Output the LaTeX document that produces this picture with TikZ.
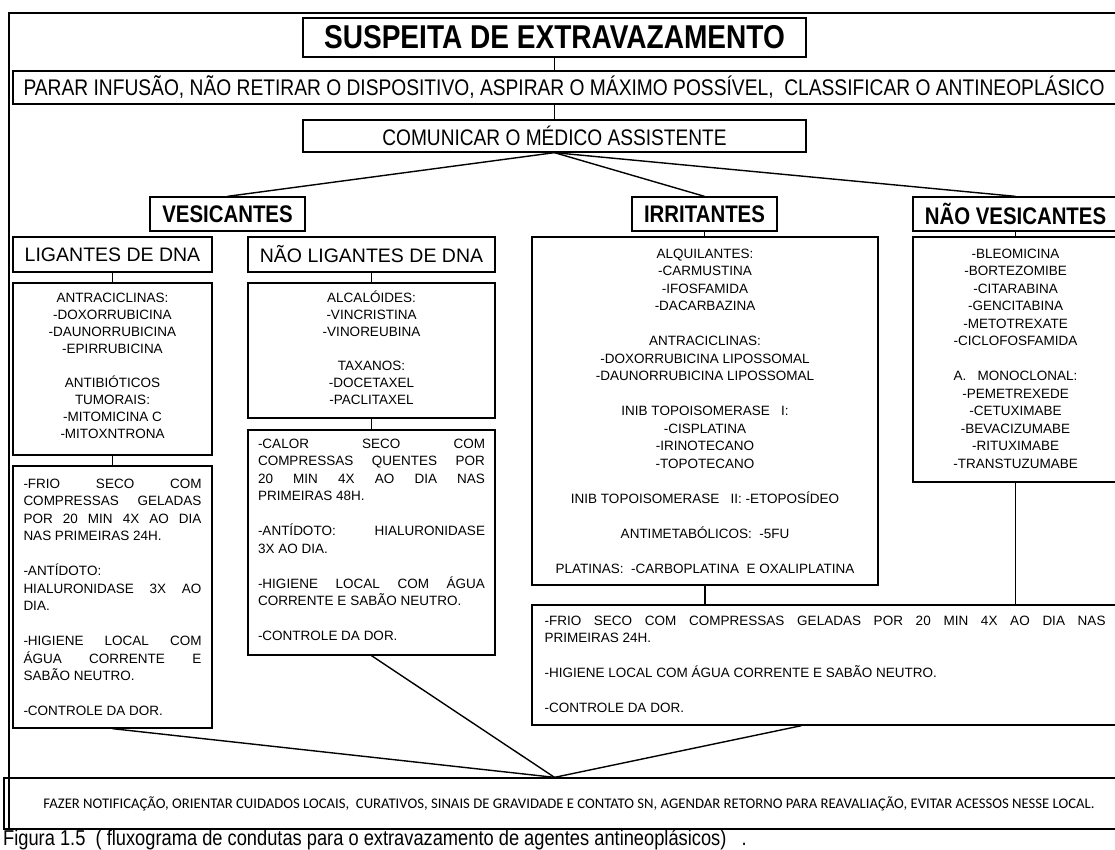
\documentclass[tikz,border=0pt]{standalone}
\usepackage{fontspec}
\setmainfont{Liberation Sans}
\newfontfamily\narrowfont[FakeStretch=0.85]{Liberation Sans}
\newfontfamily\calibfont{Carlito}
\usetikzlibrary{calc}
\newcommand{\jl}[1]{\makebox[\linewidth][s]{#1}}
\newcommand{\topl}[1]{\vspace*{#1}\rule{0pt}{13pt}}
\begin{document}
\begin{tikzpicture}[x=1pt,y=-1pt,
  box/.style={draw=black, line width=1.3pt, inner sep=0pt, align=center, text=black},
  conn/.style={draw=black, line width=1.4pt}]
\useasboundingbox (0,0) rectangle (1115,849);
\fill[white] (0,0) rectangle (1115,849);
% outer frame
\draw[line width=2pt] (9,13) rectangle (1121,829);

\node[box, minimum width=503pt, minimum height=39pt] (title) at (554.5,37.5)
  {\narrowfont\bfseries\fontsize{33}{33}\selectfont SUSPEITA DE EXTRAVAZAMENTO};
\node[box, minimum width=1105pt, minimum height=33pt] (acao) at (565.5,87.5)
  {\hspace*{-3pt}\narrowfont\fontsize{22.6}{24}\selectfont PARAR INFUSÃO, NÃO RETIRAR O DISPOSITIVO, ASPIRAR O MÁXIMO POSSÍVEL, \ CLASSIFICAR O ANTINEOPLÁSICO};
\node[box, minimum width=503pt, minimum height=32pt] (comun) at (554.5,136)
  {\narrowfont\fontsize{22.5}{23}\selectfont COMUNICAR O MÉDICO ASSISTENTE};

\node[box, minimum width=155pt, minimum height=34pt] (vesic) at (227.5,214)
  {\narrowfont\bfseries\fontsize{24}{24}\selectfont VESICANTES};
\node[box, minimum width=145pt, minimum height=34pt] (irrit) at (704.5,214)
  {\narrowfont\bfseries\fontsize{24}{24}\selectfont IRRITANTES};
\node[box, minimum width=205pt, minimum height=34pt] (naoves) at (1015.5,214)
  {\narrowfont\bfseries\fontsize{24}{24}\selectfont NÃO VESICANTES};

\node[box, minimum width=199pt, minimum height=35pt] (lig) at (112.5,254.5)
  {\fontsize{19.5}{20}\selectfont LIGANTES DE DNA};
\node[box, minimum width=247pt, minimum height=35pt] (naolig) at (371.5,254.5)
  {\fontsize{19.5}{20}\selectfont NÃO LIGANTES DE DNA};

\node[box, minimum width=199pt, minimum height=172pt] (antra) at (112.5,369)
  {\parbox[c][172pt][t]{199pt}{\centering\fontsize{13.5}{17}\selectfont\topl{6pt}ANTRACICLINAS:\\
  -DOXORRUBICINA\\ -DAUNORRUBICINA\\ -EPIRRUBICINA\\[17pt]
  ANTIBIÓTICOS\\ TUMORAIS:\\ -MITOMICINA C\\ -MITOXNTRONA}};
\node[box, minimum width=247pt, minimum height=135pt] (alcal) at (371.5,350.5)
  {\parbox[c][135pt][t]{247pt}{\centering\fontsize{13.5}{17}\selectfont\topl{6pt}ALCALÓIDES:\\
  -VINCRISTINA\\ -VINOREUBINA\\[17pt]
  TAXANOS:\\ -DOCETAXEL\\ -PACLITAXEL}};

\node[box, minimum width=199pt, minimum height=262pt, inner xsep=10.5pt] (friol) at (112.5,597)
  {\parbox[c][262pt][t]{178pt}{\raggedright\fontsize{13.5}{17.5}\selectfont\topl{9pt}%
  \jl{-FRIO SECO COM}\\
  \jl{COMPRESSAS GELADAS}\\
  \jl{POR 20 MIN 4X AO DIA}\\
  NAS PRIMEIRAS 24H.\\[17.5pt]
  -ANTÍDOTO:\\
  \jl{HIALURONIDASE 3X AO}\\
  DIA.\\[17.5pt]
  \jl{-HIGIENE LOCAL COM}\\
  \jl{ÁGUA CORRENTE E}\\
  SABÃO NEUTRO.\\[17.5pt]
  -CONTROLE DA DOR.}};

\node[box, minimum width=247pt, minimum height=225pt, inner xsep=10pt] (calor) at (371.5,542.5)
  {\parbox[c][225pt][t]{227pt}{\raggedright\fontsize{13.5}{17.5}\selectfont\topl{5pt}%
  \jl{-CALOR SECO COM}\\
  \jl{COMPRESSAS QUENTES POR}\\
  \jl{20 MIN 4X AO DIA NAS}\\
  PRIMEIRAS 48H.\\[17.5pt]
  \jl{-ANTÍDOTO: HIALURONIDASE}\\
  3X AO DIA.\\[17.5pt]
  \jl{-HIGIENE LOCAL COM ÁGUA}\\
  CORRENTE E SABÃO NEUTRO.\\[17.5pt]
  -CONTROLE DA DOR.}};

\node[box, minimum width=346pt, minimum height=348pt] (irrlist) at (705,411)
  {\parbox[c][348pt][t]{346pt}{\centering\fontsize{13.5}{17.5}\selectfont\topl{8pt}ALQUILANTES:\\
  -CARMUSTINA\\ -IFOSFAMIDA\\ -DACARBAZINA\\[17.5pt]
  ANTRACICLINAS:\\ -DOXORRUBICINA LIPOSSOMAL\\ -DAUNORRUBICINA LIPOSSOMAL\\[17.5pt]
  INIB TOPOISOMERASE \ \ I:\\ -CISPLATINA\\ -IRINOTECANO\\ -TOPOTECANO\\[17.5pt]
  INIB TOPOISOMERASE \ \ II: -ETOPOSÍDEO\\[17.5pt]
  ANTIMETABÓLICOS: \ -5FU\\[17.5pt]
  PLATINAS: \ -CARBOPLATINA \ E OXALIPLATINA}};

\node[box, minimum width=205pt, minimum height=245pt] (naolist) at (1015.5,359.5)
  {\parbox[c][245pt][t]{205pt}{\centering\fontsize{13.5}{17.5}\selectfont\topl{8pt}-BLEOMICINA\\
  -BORTEZOMIBE\\ -CITARABINA\\ -GENCITABINA\\ -METOTREXATE\\ -CICLOFOSFAMIDA\\[17.5pt]
  A. \ \ MONOCLONAL:\\ -PEMETREXEDE\\ -CETUXIMABE\\ -BEVACIZUMABE\\ -RITUXIMABE\\ -TRANSTUZUMABE}};

\node[box, minimum width=586pt, minimum height=120pt, inner xsep=12.5pt] (frior) at (825,665)
  {\parbox[c][120pt][t]{561pt}{\raggedright\fontsize{13.5}{17.5}\selectfont\topl{7pt}%
  \jl{-FRIO SECO COM COMPRESSAS GELADAS POR 20 MIN 4X AO DIA NAS}\\
  PRIMEIRAS 24H.\\[17.5pt]
  -HIGIENE LOCAL COM ÁGUA CORRENTE E SABÃO NEUTRO.\\[17.5pt]
  -CONTROLE DA DOR.}};

\node[box, minimum width=1114pt, minimum height=51pt] (final) at (561,803.5)
  {\hspace*{16pt}\calibfont\fontsize{14.7}{15}\selectfont FAZER NOTIFICAÇÃO, ORIENTAR CUIDADOS LOCAIS, \ CURATIVOS, SINAIS DE GRAVIDADE E CONTATO SN, AGENDAR RETORNO PARA REAVALIAÇÃO, EVITAR ACESSOS NESSE LOCAL.};

\node[anchor=base west, inner sep=0pt] (caption) at (3,845)
  {\narrowfont\fontsize{21.5}{22}\selectfont Figura 1.5 \ ( fluxograma de condutas para o extravazamento de agentes antineoplásicos) \ \ .};

% connectors
\coordinate (conv) at (comun.south |- final.north);
\draw[conn] (title.south) -- (title.south |- acao.north);
\draw[conn] (acao.south -| comun.north) -- (comun.north);
\draw[conn] (comun.south) -- (vesic.north);
\draw[conn] (comun.south) -- (irrit.north);
\draw[conn] (comun.south) -- (naoves.north);
\draw[conn] (irrit.south) -- (irrit.south |- irrlist.north);
\draw[conn] (naoves.south) -- (naolist.north);
\draw[conn] (lig.south) -- (antra.north);
\draw[conn] (naolig.south) -- (alcal.north);
\draw[conn] (antra.south) -- (friol.north);
\draw[conn] (alcal.south) -- (calor.north);
\draw[conn] (irrlist.south) -- (irrlist.south |- frior.north);
\draw[conn] (naolist.south) -- (naolist.south |- frior.north);
\draw[conn] (friol.south) -- (conv);
\draw[conn] (calor.south) -- (conv);
\draw[conn] ($(frior.south west)!0.46!(frior.south east)$) -- (conv);
\end{tikzpicture}
\end{document}
